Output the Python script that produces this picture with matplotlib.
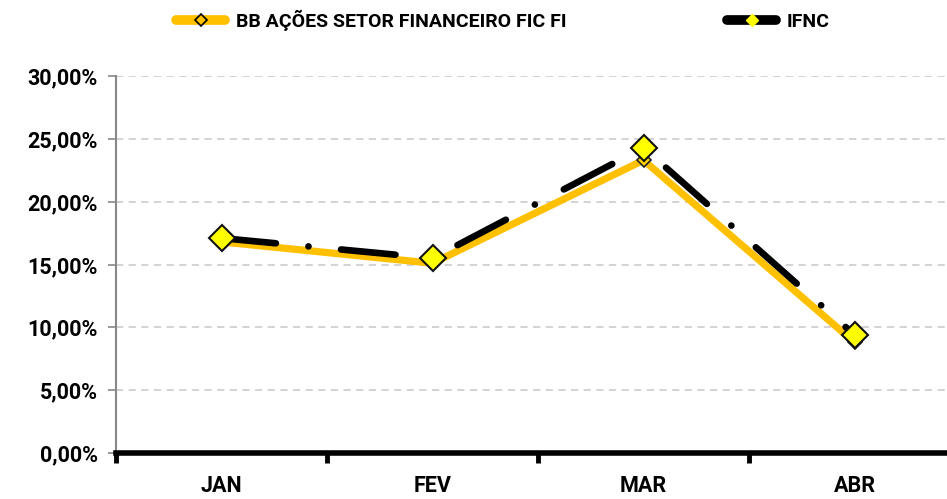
import matplotlib
matplotlib.use("Agg")
import matplotlib.pyplot as plt
from matplotlib.ticker import FuncFormatter, FixedLocator
from matplotlib.lines import Line2D

categories = ["JAN", "FEV", "MAR", "ABR"]
bb_values = [16.8, 15.1, 23.3, 8.8]
ifnc_values = [17.1, 15.5, 24.3, 9.4]
series_names = ["BB AÇÕES SETOR FINANCEIRO FIC FI", "IFNC"]

font = ["Roboto", "DejaVu Sans"]
plt.rcParams['font.family'] = font

fig = plt.figure(figsize=(9.47, 4.99), dpi=100)
W, H = 947, 499
ax = fig.add_axes([116 / W, (H - 453) / H, 844 / W, (453 - 76) / H])

x = list(range(len(categories)))
orange = "#FFC000"
ax.plot(x, bb_values, color=orange, lw=5.2, marker="D", ms=7,
        mfc="#FFD700", mec="#222222", mew=1.2, zorder=3, solid_capstyle="round")
ax.plot(x, ifnc_values, color="black", lw=4.8, linestyle=(0, (8.2, 4.9, 0.01, 4.9)),
        dash_capstyle="round", marker="D", ms=13, mfc="#FFFF00", mec="#111111",
        mew=1.5, zorder=4)

ax.set_xlim(-0.5, 3.5)
ax.set_ylim(0, 30)
ax.yaxis.set_major_locator(FixedLocator([0, 5, 10, 15, 20, 25, 30]))
ax.yaxis.set_major_formatter(FuncFormatter(lambda v, p: f"{v:.2f}".replace(".", ",") + "%"))
ax.grid(axis="y", color="#D0D0D0", linestyle=(0, (4, 3)), lw=1.3)
ax.set_axisbelow(True)

ax.set_xticks(x)
ax.set_xticklabels(categories)
ax.set_xticks([-0.5, 0.5, 1.5, 2.5, 3.5], minor=True)
ax.tick_params(axis="x", which="major", length=0, pad=16, labelsize=15.5)
ax.tick_params(axis="x", which="minor", length=7, width=3.5, color="black", direction="out")
ax.tick_params(axis="y", length=6, color="#888888", width=1.2, labelsize=15.5, pad=7)
for lab in ax.get_xticklabels() + ax.get_yticklabels():
    lab.set_fontweight("bold")

for s in ["top", "right"]:
    ax.spines[s].set_visible(False)
ax.spines["left"].set_color("#888888")
ax.spines["left"].set_linewidth(1.5)
ax.spines["bottom"].set_color("black")
ax.spines["bottom"].set_linewidth(4)

h1 = Line2D([], [], color=orange, lw=7, marker="D", ms=6, mfc=orange, mec="black", mew=1.2,
            solid_capstyle="round")
h2 = Line2D([], [], color="black", lw=7, marker="D", ms=6, mfc="#FFFF00", mec="#FFFF00",
            solid_capstyle="round")
fig.legend([h1, h2], series_names, loc="center", bbox_to_anchor=(503 / W, 1 - 20 / H),
           ncol=2, frameon=False, handlelength=2.5, handletextpad=0.55, columnspacing=8.3,
           prop={"family": font, "weight": "bold", "size": 14})

fig.savefig("out.png", dpi=100)
